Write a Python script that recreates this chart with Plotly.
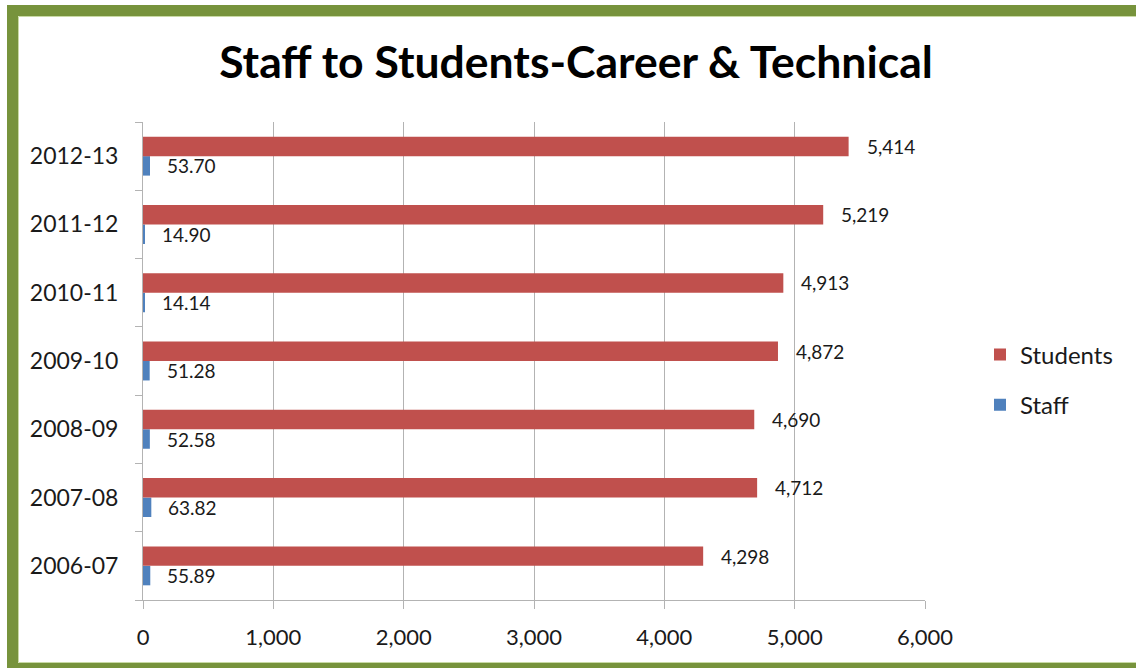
import plotly.graph_objects as go

# School years, bottom to top
years = ["2006-07", "2007-08", "2008-09", "2009-10", "2010-11", "2011-12", "2012-13"]
students = [4298, 4712, 4690, 4872, 4913, 5219, 5414]
staff = [55.89, 63.82, 52.58, 51.28, 14.14, 14.90, 53.70]

x_ticks = [0, 1000, 2000, 3000, 4000, 5000, 6000]

RED = "#C0504D"
BLUE = "#4F81BD"
GREEN = "#77933C"
GRID = "#B3B3B3"
TEXT = "#1A1A1A"
FONT = "Lato"

W, H = 1136, 668
L, R, T, B = 143, 211, 122, 68
PW, PH = W - L - R, H - T - B
BARGAP = 0.43

fig = go.Figure()
# Staff first so it sits below Students within each group
fig.add_trace(go.Bar(y=years, x=staff, name="Staff", orientation="h",
                     marker=dict(color=BLUE, line=dict(width=0)),
                     legendgroup="staff", legendrank=2))
fig.add_trace(go.Bar(y=years, x=students, name="Students", orientation="h",
                     marker=dict(color=RED, line=dict(width=0)),
                     legendgroup="students", legendrank=1))

# Value labels placed just past the end of each bar
band = PH / len(years)
half_bar = band * (1 - BARGAP) / 4
annotations = []
for yr, s, st in zip(years, students, staff):
    annotations.append(dict(x=s, y=yr, text=f"{s:,}", showarrow=False,
                            xanchor="left", yanchor="middle", xshift=16,
                            yshift=half_bar, font=dict(family=FONT, size=19, color=TEXT)))
    annotations.append(dict(x=st, y=yr, text=f"{st:.2f}", showarrow=False,
                            xanchor="left", yanchor="middle", xshift=15,
                            yshift=-half_bar, font=dict(family=FONT, size=19, color=TEXT)))

def px_x(p):
    return (p - L) / PW

def px_y(p):
    return (H - B - p) / PH

# Green frame around the chart area
shapes = [
    dict(type="rect", xref="paper", yref="paper",
         x0=px_x(12.5), x1=px_x(W + 30), y0=px_y(10.5), y1=px_y(668.5),
         line=dict(color=GREEN, width=11), fillcolor="rgba(0,0,0,0)", layer="above"),
    dict(type="rect", xref="paper", yref="paper",
         x0=px_x(18.5), x1=px_x(W + 30), y0=px_y(16.5), y1=px_y(662.5),
         line=dict(color="#C9DAA5", width=1), fillcolor="rgba(0,0,0,0)", layer="above"),
]

fig.update_layout(
    width=W, height=H,
    margin=dict(l=L, r=R, t=T, b=B),
    paper_bgcolor="white", plot_bgcolor="white",
    barmode="group", bargap=BARGAP, bargroupgap=0,
    title=dict(text="<b>Staff to Students-Career &amp; Technical</b>",
               font=dict(family=FONT, size=44.5, color="black"),
               x=576 / W, xref="container", xanchor="center",
               y=1 - 62 / H, yref="container", yanchor="middle"),
    font=dict(family=FONT, color=TEXT),
    legend=dict(x=px_x(980), y=px_y(380), xanchor="left", yanchor="middle",
                traceorder="grouped", tracegroupgap=16,
                font=dict(family=FONT, size=24, color=TEXT),
                bgcolor="rgba(0,0,0,0)"),
    annotations=annotations,
    shapes=shapes,
)

fig.update_xaxes(range=[0, 6000], tickvals=x_ticks, tickformat=",",
                 showgrid=True, gridcolor=GRID, gridwidth=1,
                 showline=True, linecolor=GRID, linewidth=1,
                 ticks="outside", ticklen=8, tickcolor=GRID,
                 ticklabelstandoff=10,
                 tickfont=dict(family=FONT, size=22, color=TEXT),
                 zeroline=False, fixedrange=True)
fig.update_yaxes(type="category", categoryorder="array", categoryarray=years,
                 showgrid=False, showline=True, linecolor=GRID, linewidth=1,
                 ticks="outside", tickson="boundaries", ticklen=7, tickcolor=GRID,
                 ticklabelstandoff=19,
                 tickfont=dict(family=FONT, size=23, color=TEXT),
                 fixedrange=True)

fig.write_html("out.html")
